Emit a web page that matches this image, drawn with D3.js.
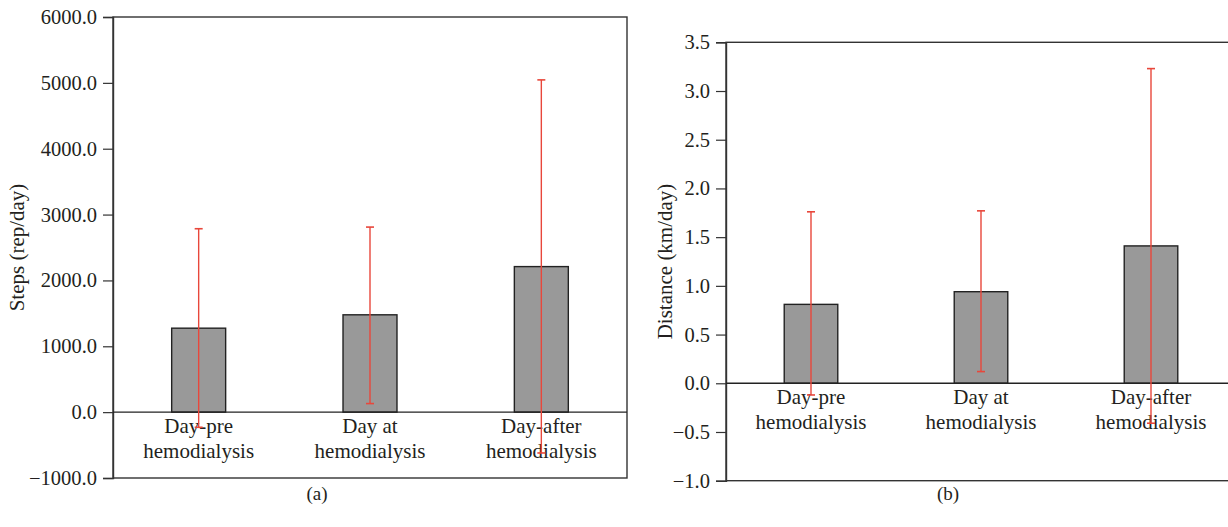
<!DOCTYPE html>
<html>
<head>
<meta charset="utf-8">
<script src="https://cdn.jsdelivr.net/npm/d3@7"></script>
<style>
  body { margin: 0; background: #fff; }
  text { font-family: "Liberation Serif", "Times New Roman", serif; fill: #231f20; }
</style>
</head>
<body>
<div id="chart"></div>
<script>
// categories (two text lines each)
const categories = ["Day-pre hemodialysis", "Day at hemodialysis", "Day-after hemodialysis"];
const categoryLines = [["Day-pre", "hemodialysis"], ["Day at", "hemodialysis"], ["Day-after", "hemodialysis"]];

// panel (a): steps
const stepsMean = [1275, 1478, 2210];
const stepsLow = [-230, 130, -620];
const stepsHigh = [2785, 2810, 5045];
const stepsTicks = [-1000, 0, 1000, 2000, 3000, 4000, 5000, 6000];

// panel (b): distance
const distMean = [0.81, 0.94, 1.41];
const distLow = [-0.12, 0.12, -0.41];
const distHigh = [1.76, 1.77, 3.23];
const distTicks = [-1.0, -0.5, 0.0, 0.5, 1.0, 1.5, 2.0, 2.5, 3.0, 3.5];

const W = 1228, H = 527;
const svg = d3.select("#chart").append("svg")
  .attr("width", W).attr("height", H);

function drawPanel(opts) {
  const g = svg.append("g");

  const x = d3.scaleBand()
    .domain(categories)
    .range([opts.left, opts.right])
    .paddingInner(0.685)
    .paddingOuter(0.3425);

  const y = d3.scaleLinear()
    .domain(opts.domain)
    .range([opts.bottom, opts.top]);

  // frame
  g.append("rect")
    .attr("x", opts.left).attr("y", opts.top)
    .attr("width", opts.right - opts.left)
    .attr("height", opts.bottom - opts.top)
    .attr("fill", "none")
    .attr("stroke", "#333")
    .attr("stroke-width", 1.4);

  // left axis with ticks outside
  const axis = g.append("g")
    .attr("transform", `translate(${opts.left},0)`)
    .call(d3.axisLeft(y).tickValues(opts.ticks).tickSize(10).tickPadding(6)
      .tickFormat(d3.format(".1f")));
  axis.select(".domain").attr("stroke", "#333").attr("stroke-width", 1.4);
  axis.selectAll(".tick line").attr("stroke", "#333").attr("stroke-width", 1.2);
  axis.selectAll(".tick text")
    .attr("font-size", 20.5)
    .attr("fill", "#231f20")
    .style("font-family", "'Liberation Serif', serif")
    .text(d => d3.format(".1f")(d).replace("-", "\u2212"));

  // y axis title
  g.append("text")
    .attr("transform", `translate(${opts.titleX},${(opts.top + opts.bottom) / 2}) rotate(-90)`)
    .attr("text-anchor", "middle")
    .attr("font-size", 21)
    .text(opts.title);

  // category labels
  categoryLines.forEach((lines, i) => {
    const cx = x(categories[i]) + x.bandwidth() / 2;
    lines.forEach((t, j) => {
      g.append("text")
        .attr("x", cx)
        .attr("y", y(0) + 21 + j * 25)
        .attr("text-anchor", "middle")
        .attr("font-size", 21)
        .text(t);
    });
  });

  // bars
  g.selectAll("rect.bar")
    .data(opts.mean)
    .join("rect")
    .attr("class", "bar")
    .attr("x", (d, i) => x(categories[i]))
    .attr("width", x.bandwidth())
    .attr("y", d => y(d))
    .attr("height", d => y(0) - y(d))
    .attr("fill", "#999999")
    .attr("stroke", "#222")
    .attr("stroke-width", 1.4);

  // zero line
  g.append("line")
    .attr("x1", opts.left).attr("x2", opts.right)
    .attr("y1", y(0)).attr("y2", y(0))
    .attr("stroke", "#222").attr("stroke-width", 1.4);

  // error bars
  const red = "#e8473b";
  opts.mean.forEach((m, i) => {
    const cx = x(categories[i]) + x.bandwidth() / 2;
    const lo = opts.low[i], hi = opts.high[i];
    g.append("line")
      .attr("x1", cx).attr("x2", cx)
      .attr("y1", y(lo)).attr("y2", y(hi))
      .attr("stroke", red).attr("stroke-width", 1.4);
    [lo, hi].forEach(v => {
      g.append("line")
        .attr("x1", cx - 4).attr("x2", cx + 4)
        .attr("y1", y(v)).attr("y2", y(v))
        .attr("stroke", red).attr("stroke-width", 1.6);
    });
  });

  // caption
  g.append("text")
    .attr("x", opts.captionX)
    .attr("y", 500)
    .attr("text-anchor", "middle")
    .attr("font-size", 19)
    .text(opts.caption);
}

drawPanel({
  left: 113, right: 627, top: 17, bottom: 478,
  domain: [-1000, 6000], ticks: stepsTicks,
  mean: stepsMean, low: stepsLow, high: stepsHigh,
  title: "Steps (rep/day)", titleX: 24,
  caption: "(a)", captionX: 317
});

drawPanel({
  left: 726, right: 1236, top: 42.3, bottom: 480.7,
  domain: [-1.0, 3.5], ticks: distTicks,
  mean: distMean, low: distLow, high: distHigh,
  title: "Distance (km/day)", titleX: 672,
  caption: "(b)", captionX: 948
});
</script>
</body>
</html>
